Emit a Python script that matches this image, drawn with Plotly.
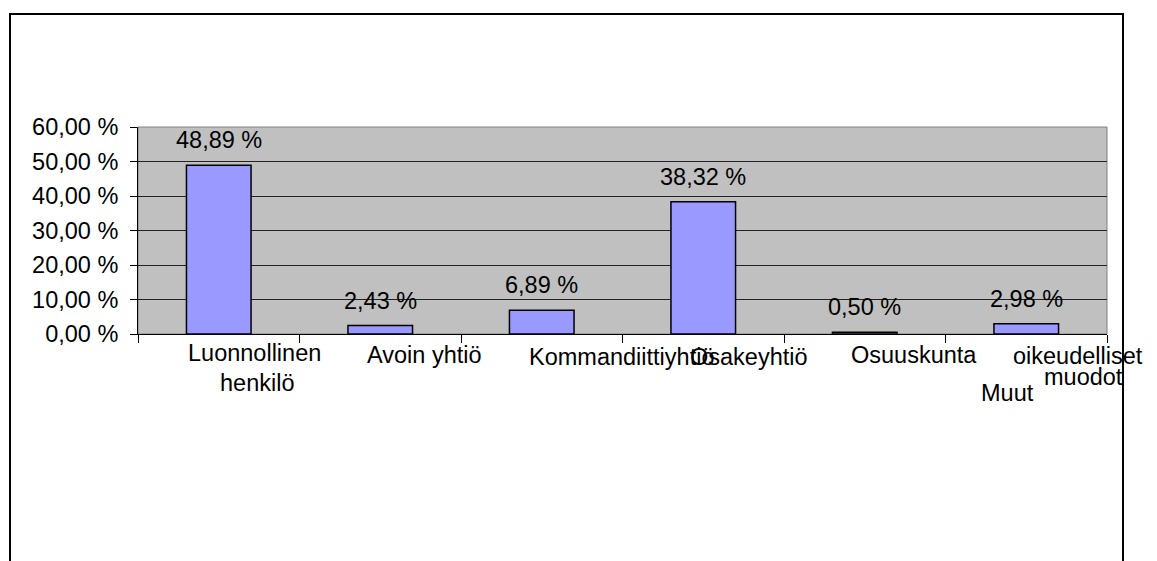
import plotly.graph_objects as go

categories = ["Luonnollinen henkilö", "Avoin yhtiö", "Kommandiittiyhtiö",
              "Osakeyhtiö", "Osuuskunta", "Muut oikeudelliset muodot"]
values = [48.89, 2.43, 6.89, 38.32, 0.50, 2.98]
value_labels = ["48,89 %", "2,43 %", "6,89 %", "38,32 %", "0,50 %", "2,98 %"]
y_ticks = [0, 10, 20, 30, 40, 50, 60]
y_tick_labels = ["0,00 %", "10,00 %", "20,00 %", "30,00 %", "40,00 %", "50,00 %", "60,00 %"]

OFF = 8  # page body margin
W, H = 1157 - OFF, 561 - OFF
PL, PR, PT, PB = 138 - OFF, 1107 - OFF, 127 - OFF, 334 - OFF  # plot area in figure pixels
FONT = "Liberation Sans, Arial, sans-serif"
FS = 23.5

def py(p):  # page pixel y -> paper y
    return (PB - (p - OFF)) / (PB - PT)

def px(p):  # page pixel x -> paper x
    return ((p - OFF) - PL) / (PR - PL)

fig = go.Figure()
fig.add_trace(go.Bar(
    x=categories, y=values,
    width=0.4,
    marker=dict(color="#9999FF", line=dict(color="black", width=1.5)),
    hoverinfo="skip",
))

annotations = []
for c, v, t in zip(categories, values, value_labels):
    annotations.append(dict(x=c, y=v, xref="x", yref="y", text=t, showarrow=False,
                            yanchor="middle", yshift=25,
                            font=dict(family=FONT, size=FS, color="black")))

label_layout = [
    # (category index, line text, xshift px, center y px on page)
    (0, categories[0].split(" ")[0], 36, 353),
    (0, categories[0].split(" ")[1], 38, 383),
    (1, categories[1], 44, 355),
    (2, categories[2], 80, 357),
    (3, categories[3], 46, 357),
    (4, categories[4], 49, 355),
    (5, categories[5].split(" ")[1], 52, 356),
    (5, categories[5].split(" ")[2], 57, 377),
    (5, categories[5].split(" ")[0], -19, 393),
]
for idx, txt, xs, yc in label_layout:
    annotations.append(dict(x=categories[idx], y=py(yc), xref="x", yref="paper",
                            text=txt, showarrow=False, xshift=xs,
                            xanchor="center", yanchor="middle",
                            font=dict(family=FONT, size=FS, color="black")))

shapes = [
    dict(type="rect", xref="paper", yref="paper", x0=0, x1=1, y0=0, y1=1,
         line=dict(color="#808080", width=1), layer="below"),
    dict(type="rect", xref="paper", yref="paper",
         x0=px(10), x1=px(1123), y0=py(600), y1=py(14),
         line=dict(color="black", width=2)),
]

fig.update_layout(
    width=W, height=H,
    margin=dict(l=PL, r=W - PR, t=PT, b=H - PB, pad=0),
    paper_bgcolor="white", plot_bgcolor="#C0C0C0",
    showlegend=False,
    bargap=0.6,
    annotations=annotations,
    shapes=shapes,
    font=dict(family=FONT, size=FS, color="black"),
)
fig.update_xaxes(
    type="category", showticklabels=False,
    range=[-0.5, len(categories) - 0.5], autorange=False,
    ticks="outside", ticklen=8, tickcolor="black", tickwidth=1,
    tickson="boundaries",
    showline=True, linecolor="black", linewidth=1,
    showgrid=False, zeroline=False, fixedrange=True,
)
fig.update_yaxes(
    range=[0, 60], autorange=False, tickvals=y_ticks, ticktext=y_tick_labels,
    ticks="outside", ticklen=7, tickcolor="black", tickwidth=1,
    ticklabelstandoff=7,
    tickfont=dict(family=FONT, size=FS, color="black"),
    showline=True, linecolor="black", linewidth=1,
    showgrid=True, gridcolor="#222222", gridwidth=1,
    zeroline=False, fixedrange=True,
)

fig.write_html("out.html")
